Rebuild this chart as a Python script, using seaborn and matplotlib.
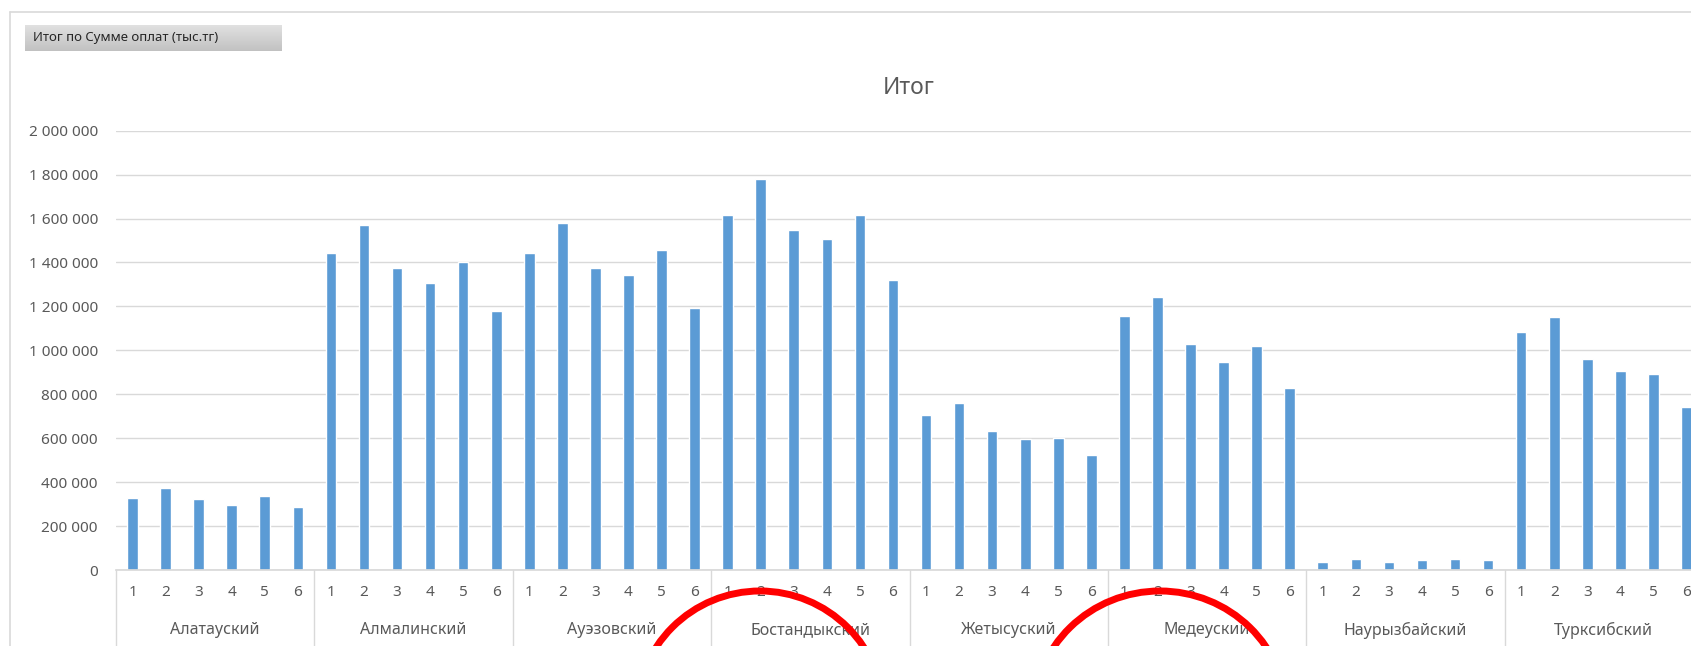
import numpy as np
import pandas as pd
import seaborn as sns
import matplotlib.pyplot as plt
from matplotlib.patches import Ellipse
from matplotlib.lines import Line2D
from matplotlib.ticker import FuncFormatter, MultipleLocator
from matplotlib.transforms import blended_transform_factory

# Data (sum of payments, thousand tenge)
districts = ['Алатауский', 'Алмалинский', 'Ауэзовский', 'Бостандыкский',
             'Жетысуский', 'Медеуский', 'Наурызбайский', 'Турксибский']
months = [1, 2, 3, 4, 5, 6]

alatau = [326000, 372000, 325000, 295000, 335000, 288000]
almaly = [1443000, 1571000, 1374000, 1305000, 1404000, 1177000]
auezov = [1443000, 1581000, 1374000, 1345000, 1458000, 1192000]
bostandyk = [1616000, 1778000, 1547000, 1507000, 1616000, 1320000]
zhetysu = [704000, 759000, 631000, 596000, 601000, 522000]
medeu = [1158000, 1241000, 1030000, 946000, 1020000, 828000]
nauryzbai = [35000, 50000, 35000, 44000, 50000, 44000]
turksib = [1082000, 1154000, 961000, 905000, 894000, 743000]

series = [alatau, almaly, auezov, bostandyk, zhetysu, medeu, nauryzbai, turksib]

rows = []
for name, vals in zip(districts, series):
    for m, v in zip(months, vals):
        rows.append({'district': name, 'month': m, 'slot': f'{name}-{m}', 'value': v})
df = pd.DataFrame(rows)

W, H = 1691, 646
GRAY = '#595959'
LINE = '#D9D9D9'

sns.set_theme(style='white')
plt.rcParams['font.family'] = ['Noto Sans', 'DejaVu Sans']

fig = plt.figure(figsize=(W / 100, H / 100), dpi=100)
fig.patch.set_facecolor('white')

# main axes (right edge runs past the picture, as in the reference)
ax_h = 439.3
ax = fig.add_axes([116 / W, 76 / H, 1587 / W, ax_h / H])
sns.barplot(data=df, x='slot', y='value', color='#5B9BD5', saturation=1,
            width=0.32, ax=ax, errorbar=None)

ax.set_xlim(-0.5, len(df) - 0.5)
ax.set_ylim(0, 2_000_000)
ax.yaxis.set_major_locator(MultipleLocator(200_000))
ax.yaxis.set_major_formatter(FuncFormatter(lambda v, p: f'{v:,.0f}'.replace(',', ' ')))
ax.grid(axis='y', color=LINE, lw=1)
ax.set_axisbelow(True)
for s in ['top', 'right', 'left']:
    ax.spines[s].set_visible(False)
ax.spines['bottom'].set_color(LINE)
ax.set_xlabel('')
ax.set_ylabel('')
ax.set_xticks(range(len(df)))
ax.set_xticklabels([str(m) for m in df['month']])
ax.tick_params(axis='both', length=0, colors=GRAY)
ax.tick_params(axis='y', pad=13, labelsize=11)
ax.tick_params(axis='x', pad=11, labelsize=11)

# second level of the category axis
trans = blended_transform_factory(ax.transData, ax.transAxes)
for i in range(len(districts) + 1):
    x = i * len(months) - 0.5
    ax.plot([x, x], [0, -80 / ax_h], transform=trans, clip_on=False, color=LINE, lw=1)
for i, name in enumerate(districts):
    ax.text(i * len(months) + 2.5, -60 / ax_h, name, transform=trans,
            ha='center', va='center', fontsize=11.5, color=GRAY)

# title
fig.text(909 / W, 1 - 88 / H, 'Итог', ha='center', va='center', fontsize=16.5, color=GRAY)

# chart border
fig.add_artist(Line2D([10 / W, 10 / W], [0, 1 - 12 / H], color=LINE, lw=1.2, transform=fig.transFigure))
fig.add_artist(Line2D([10 / W, 1], [1 - 12 / H, 1 - 12 / H], color=LINE, lw=1.2, transform=fig.transFigure))

# pivot field button
bax = fig.add_axes([25 / W, 1 - 51 / H, 257 / W, 26 / H])
top_c = np.array([0.88, 0.88, 0.88])
bot_c = np.array([0.76, 0.76, 0.76])
grad = np.linspace(top_c, bot_c, 30).reshape(30, 1, 3)
bax.imshow(grad, aspect='auto', extent=[0, 1, 0, 1])
bax.axis('off')
bax.text(0.03, 0.5, 'Итог по Сумме оплат (тыс.тг)', ha='left', va='center',
         fontsize=9.5, color='#262626', transform=bax.transAxes)

# red hand-drawn circles at the bottom
px = fig.dpi_scale_trans
for cx, cy, w, h in [(760, 715, 248, 248), (1160, 715, 254, 248)]:
    fig.add_artist(Ellipse((cx / 100, (H - cy) / 100), w / 100, h / 100, transform=px,
                           fill=False, edgecolor='#FF0000', lw=5))

fig.savefig('out.png', dpi=100)
